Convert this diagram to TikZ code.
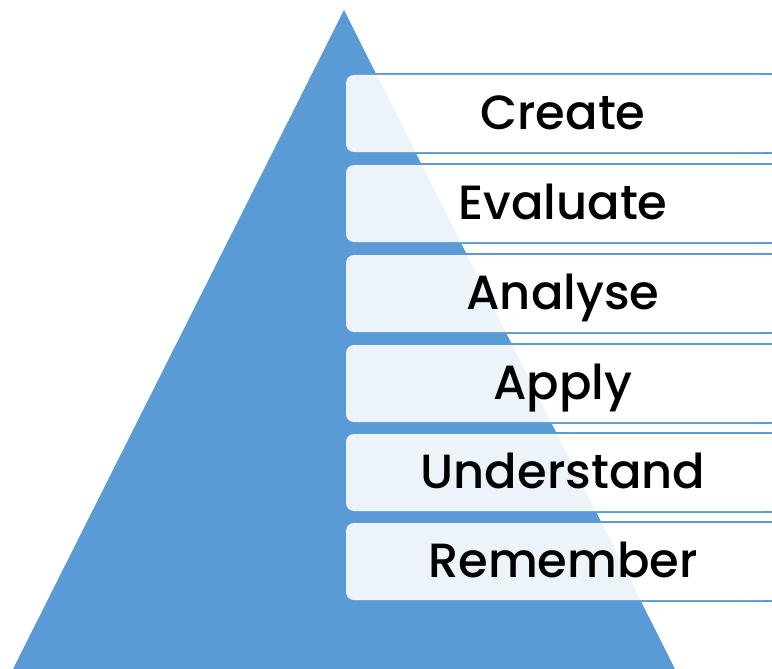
\documentclass[tikz,border=0pt]{standalone}
\usepackage{fontspec}
\setmainfont{Poppins}[UprightFont=* Medium]
\definecolor{tri}{HTML}{5B9BD5}
\begin{document}
\begin{tikzpicture}[x=1pt,y=-1pt,
  outline/.style={draw=tri,line width=2pt},
  levelbox/.style={fill=white,fill opacity=0.89,rounded corners=8pt},
  label/.style={font=\fontsize{48}{50}\selectfont,text=black,anchor=base,inner sep=0pt}]
\useasboundingbox (0,0) rectangle (772,669);
\fill[tri] (344,10) -- (678,675) -- (10,675) -- cycle;
\foreach \t/\txt/\nm in {75/Create/create,165/Evaluate/evaluate,255/Analyse/analyse,345/Apply/apply,434/Understand/understand,523/Remember/remember}{
  \draw[outline] (346,\t-1) rectangle (790,\t+78);
  \fill[levelbox] (346,\t) rectangle (770,\t+77);
  \node[label] (\nm) at (563,\t+54) {\txt};
}
\end{tikzpicture}
\end{document}
